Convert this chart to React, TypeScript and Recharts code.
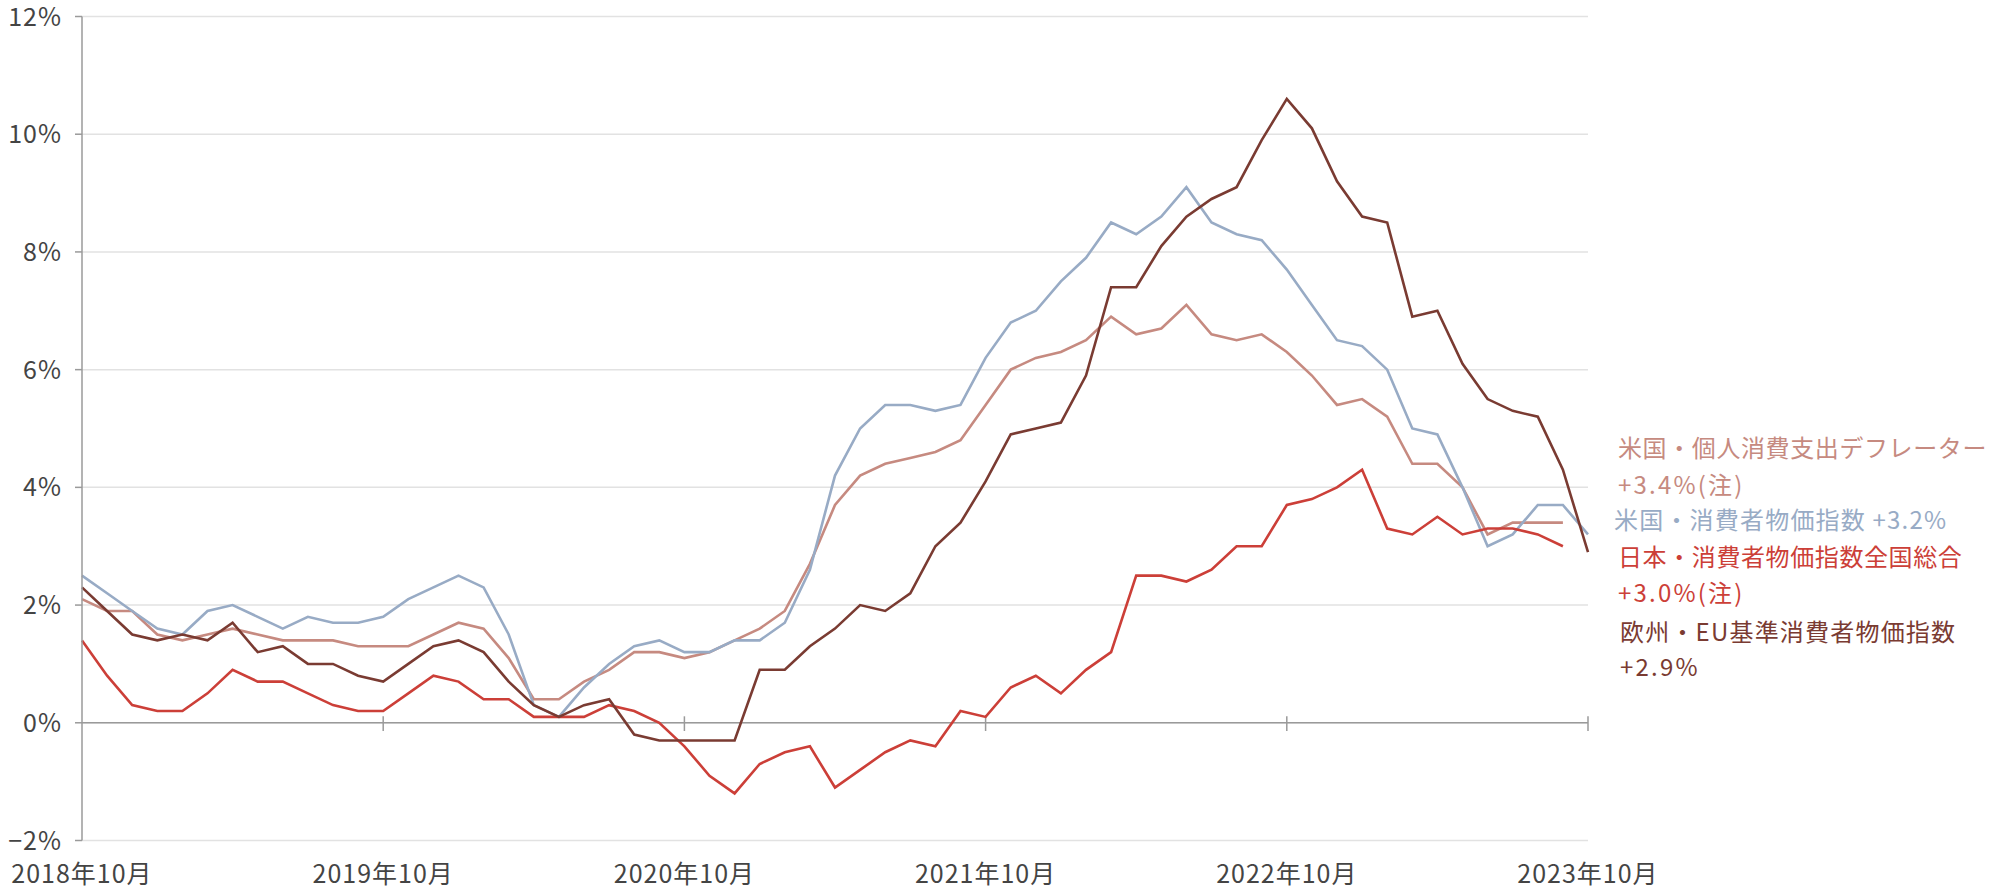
import { LineChart, Line, XAxis, YAxis, CartesianGrid, ReferenceLine } from "recharts";

const FONT = '"Noto Sans CJK JP", "Noto Sans", sans-serif';

// 2018年10月 .. 2023年10月, monthly
const MONTHS = Array.from({ length: 61 }, (_, i) => {
  const m = 9 + i;
  return `${2018 + Math.floor(m / 12)}年${(m % 12) + 1}月`;
});

const X_TICKS = ["2018年10月", "2019年10月", "2020年10月", "2021年10月", "2022年10月", "2023年10月"];
const Y_TICKS = [-2, 0, 2, 4, 6, 8, 10, 12];

// 米国・個人消費支出デフレーター (no value for the last month)
const US_PCE = [
  2.1, 1.9, 1.9, 1.5, 1.4, 1.5, 1.6, 1.5, 1.4, 1.4, 1.4, 1.3,
  1.3, 1.3, 1.5, 1.7, 1.6, 1.1, 0.4, 0.4, 0.7, 0.9, 1.2, 1.2,
  1.1, 1.2, 1.4, 1.6, 1.9, 2.7, 3.7, 4.2, 4.4, 4.5, 4.6, 4.8,
  5.4, 6.0, 6.2, 6.3, 6.5, 6.9, 6.6, 6.7, 7.1, 6.6, 6.5, 6.6,
  6.3, 5.9, 5.4, 5.5, 5.2, 4.4, 4.4, 4.0, 3.2, 3.4, 3.4, 3.4,
  null,
];

// 米国・消費者物価指数
const US_CPI = [
  2.5, 2.2, 1.9, 1.6, 1.5, 1.9, 2.0, 1.8, 1.6, 1.8, 1.7, 1.7,
  1.8, 2.1, 2.3, 2.5, 2.3, 1.5, 0.3, 0.1, 0.6, 1.0, 1.3, 1.4,
  1.2, 1.2, 1.4, 1.4, 1.7, 2.6, 4.2, 5.0, 5.4, 5.4, 5.3, 5.4,
  6.2, 6.8, 7.0, 7.5, 7.9, 8.5, 8.3, 8.6, 9.1, 8.5, 8.3, 8.2,
  7.7, 7.1, 6.5, 6.4, 6.0, 5.0, 4.9, 4.0, 3.0, 3.2, 3.7, 3.7,
  3.2,
];

// 日本・消費者物価指数全国総合 (no value for the last month)
const JP_CPI = [
  1.4, 0.8, 0.3, 0.2, 0.2, 0.5, 0.9, 0.7, 0.7, 0.5, 0.3, 0.2,
  0.2, 0.5, 0.8, 0.7, 0.4, 0.4, 0.1, 0.1, 0.1, 0.3, 0.2, 0.0,
  -0.4, -0.9, -1.2, -0.7, -0.5, -0.4, -1.1, -0.8, -0.5, -0.3, -0.4, 0.2,
  0.1, 0.6, 0.8, 0.5, 0.9, 1.2, 2.5, 2.5, 2.4, 2.6, 3.0, 3.0,
  3.7, 3.8, 4.0, 4.3, 3.3, 3.2, 3.5, 3.2, 3.3, 3.3, 3.2, 3.0,
  null,
];

// 欧州・EU基準消費者物価指数
const EU_HICP = [
  2.3, 1.9, 1.5, 1.4, 1.5, 1.4, 1.7, 1.2, 1.3, 1.0, 1.0, 0.8,
  0.7, 1.0, 1.3, 1.4, 1.2, 0.7, 0.3, 0.1, 0.3, 0.4, -0.2, -0.3,
  -0.3, -0.3, -0.3, 0.9, 0.9, 1.3, 1.6, 2.0, 1.9, 2.2, 3.0, 3.4,
  4.1, 4.9, 5.0, 5.1, 5.9, 7.4, 7.4, 8.1, 8.6, 8.9, 9.1, 9.9,
  10.6, 10.1, 9.2, 8.6, 8.5, 6.9, 7.0, 6.1, 5.5, 5.3, 5.2, 4.3,
  2.9,
];

const COLORS = {
  pce: "#c68a80",
  cpi: "#98abc5",
  jp: "#cc3f38",
  eu: "#7a3b32",
};

const LABELS: [string, string][] = [
  ["米国・個人消費支出デフレーター", COLORS.pce],
  ["+3.4%(注)", COLORS.pce],
  ["米国・消費者物価指数 +3.2%", COLORS.cpi],
  ["日本・消費者物価指数全国総合", COLORS.jp],
  ["+3.0%(注)", COLORS.jp],
  ["欧州・EU基準消費者物価指数", COLORS.eu],
  ["+2.9%", COLORS.eu],
];
const LABEL_Y = [447, 484, 519, 556, 592, 631, 666];
const LABEL_X = [1618, 1618, 1614, 1618, 1618, 1620, 1620];
const LABEL_SPACING = [0.6, 2.2, 1.2, 0.6, 2.2, 1.2, 2.2];

const data = MONTHS.map((month, i) => ({
  month,
  pce: US_PCE[i],
  cpi: US_CPI[i],
  jp: JP_CPI[i],
  eu: EU_HICP[i],
}));

const YTick = ({ x, y, payload }: any) => (
  <text x={x} y={y} dy="0.36em" textAnchor="end" fill="#444" fontSize={25} fontFamily={FONT} letterSpacing={1}>
    {payload.value < 0 ? `−${Math.abs(payload.value)}%` : `${payload.value}%`}
  </text>
);

const XTick = ({ x, y, payload }: any) => (
  <text x={x} y={y + 42} textAnchor="middle" fill="#444" fontSize={25} fontFamily={FONT} letterSpacing={1}>
    {payload.value}
  </text>
);

export default function App() {
  return (
    <div style={{ position: "absolute", left: 0, top: 0, width: 2006, height: 889, background: "#fff", fontFamily: FONT }}>
      <LineChart width={2006} height={889} data={data} margin={{ top: 16.5, right: 418, bottom: 8.5, left: 12 }}>
        <CartesianGrid horizontal vertical={false} stroke="#e2e2e2" strokeWidth={1.5} />
        <XAxis
          dataKey="month"
          ticks={X_TICKS}
          interval={0}
          axisLine={false}
          tickLine={false}
          tickSize={0}
          tickMargin={0}
          height={40}
          tick={<XTick />}
        />
        <YAxis
          domain={[-2, 12]}
          ticks={Y_TICKS}
          width={70}
          axisLine={{ stroke: "#9a9a9a", strokeWidth: 1.5 }}
          tickLine={{ stroke: "#9a9a9a", strokeWidth: 1.5 }}
          tickSize={7}
          tickMargin={13}
          tick={<YTick />}
        />
        <ReferenceLine y={0} stroke="#9a9a9a" strokeWidth={1.5} />
        {X_TICKS.slice(1).map((m) => (
          <ReferenceLine
            key={m}
            segment={[{ x: m, y: 0.11 }, { x: m, y: -0.14 }]}
            stroke="#9a9a9a"
            strokeWidth={1.5}
            ifOverflow="visible"
          />
        ))}
        <Line type="linear" dataKey="pce" stroke={COLORS.pce} strokeWidth={2.6} dot={false} isAnimationActive={false} />
        <Line type="linear" dataKey="cpi" stroke={COLORS.cpi} strokeWidth={2.6} dot={false} isAnimationActive={false} />
        <Line type="linear" dataKey="jp" stroke={COLORS.jp} strokeWidth={2.6} dot={false} isAnimationActive={false} />
        <Line type="linear" dataKey="eu" stroke={COLORS.eu} strokeWidth={2.6} dot={false} isAnimationActive={false} />
      </LineChart>
      {LABELS.map(([text, color], i) => (
        <div
          key={i}
          style={{
            position: "absolute",
            left: LABEL_X[i],
            top: LABEL_Y[i] - 13,
            fontSize: 24,
            lineHeight: "26px",
            color,
            letterSpacing: LABEL_SPACING[i],
            whiteSpace: "nowrap",
          }}
        >
          {text}
        </div>
      ))}
    </div>
  );
}
